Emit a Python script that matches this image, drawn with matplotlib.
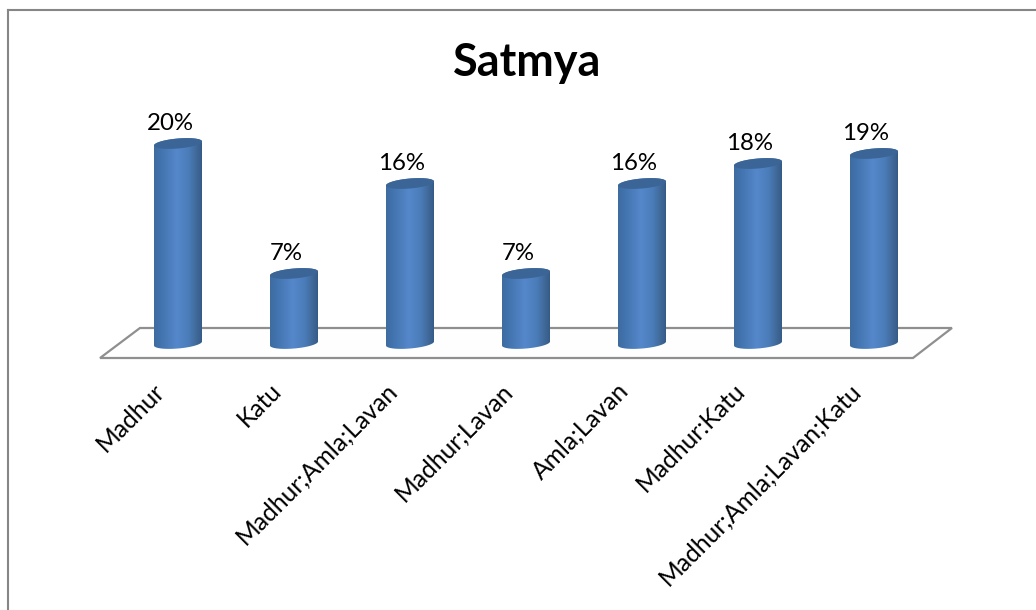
import numpy as np
import matplotlib
matplotlib.use('Agg')
import matplotlib.pyplot as plt
from matplotlib.colors import LinearSegmentedColormap
from matplotlib.lines import Line2D
from matplotlib.patches import PathPatch, Polygon
from matplotlib.path import Path
from matplotlib.transforms import ScaledTranslation

plt.rcParams['font.family'] = ['Lato', 'DejaVu Sans']

categories = ['Madhur', 'Katu', 'Madhur;Amla;Lavan', 'Madhur;Lavan',
              'Amla;Lavan', 'Madhur:Katu', 'Madhur;Amla;Lavan;Katu']
values = [20, 7, 16, 7, 16, 18, 19]
title = 'Satmya'

W, H = 1036, 610
half_w = 24 / 116      # cylinder half width, in category units
ell_h = 0.5            # ellipse half height, in percent units
ell_tilt = 0.2

shade = LinearSegmentedColormap.from_list('cyl', [
    (0.0, '#3f6c9f'), (0.12, '#4172ac'), (0.48, '#5588cb'),
    (0.72, '#4b7dba'), (0.9, '#3f6897'), (1.0, '#355a88')])
gradient = np.linspace(0, 1, 256).reshape(1, -1)

fig = plt.figure(figsize=(W / 100, H / 100), dpi=100, facecolor='white')
# 7 categories at 116px each, y=0 at pixel 343.5, 10px per percent
ax = fig.add_axes([120 / W, (H - 343.5) / H, 812 / W, 235 / H])
ax.set_xlim(-0.5, 6.5)
ax.set_ylim(0, 23.5)
ax.patch.set_alpha(0)
for s in ax.spines.values():
    s.set_visible(False)
ax.set_yticks([])
ax.set_xticks(range(len(categories)))
ax.set_xticklabels(categories, rotation=45, ha='right', va='top',
                   rotation_mode='anchor', fontsize=17.7, color='black')
ax.tick_params(axis='x', length=0, pad=25.5)
shift = ScaledTranslation(-25 / 100, 0, fig.dpi_scale_trans)
for lab in ax.get_xticklabels():
    lab.set_transform(lab.get_transform() + shift)

# floor
floor = Polygon([(-0.672, -1.45), (-0.328, 1.55), (6.672, 1.55), (6.336, -1.45)],
                closed=True, facecolor='#fefefe', edgecolor='#8f8f8f',
                linewidth=1.6, clip_on=False, zorder=1)
ax.add_patch(floor)

t = np.linspace(0, 2 * np.pi, 121)
for i, v in enumerate(values):
    # bottom half of the base ellipse, then back across the top ellipse
    tb = np.linspace(np.pi, 2 * np.pi, 60)
    tt = np.linspace(0, np.pi, 60)
    xs = np.r_[i + half_w * np.cos(tb), i + half_w * np.cos(tt)]
    ys = np.r_[ell_h * np.sin(tb) + ell_tilt * np.cos(tb),
               v + ell_h * np.sin(tt) + ell_tilt * np.cos(tt)]
    body = PathPatch(Path(np.c_[xs, ys]), transform=ax.transData,
                     facecolor='none', edgecolor='none', clip_on=False)
    ax.add_patch(body)
    im = ax.imshow(gradient, cmap=shade, aspect='auto', zorder=3,
                   extent=(i - half_w, i + half_w, -1, v + 1))
    im.set_clip_box(fig.bbox)
    im.set_clip_path(body)
    cap = Polygon(np.c_[i + half_w * np.cos(t),
                        v + ell_h * np.sin(t) + ell_tilt * np.cos(t)],
                  closed=True, facecolor='#3a6596', edgecolor='none', zorder=4)
    ax.add_patch(cap)
    ax.annotate(f'{v}%', (i, v), xytext=(-5.8, 14.5), textcoords='offset points',
                ha='center', va='center', fontsize=17.3, color='black',
                annotation_clip=False, zorder=5)
ax.set_xlim(-0.5, 6.5)
ax.set_ylim(0, 23.5)

fig.text(527 / W, 1 - 63 / H, title, ha='center', va='center',
         fontsize=32.4, fontweight='bold', color='black')

# chart frame, runs off the picture at right and bottom
frame = dict(color='#868686', linewidth=1.5, transform=fig.transFigure)
fig.add_artist(Line2D([7.5 / W, 7.5 / W], [0, 1 - 9.5 / H], **frame))
fig.add_artist(Line2D([7.5 / W, 1], [1 - 9.5 / H, 1 - 9.5 / H], **frame))

fig.savefig('out.png', dpi=100)
